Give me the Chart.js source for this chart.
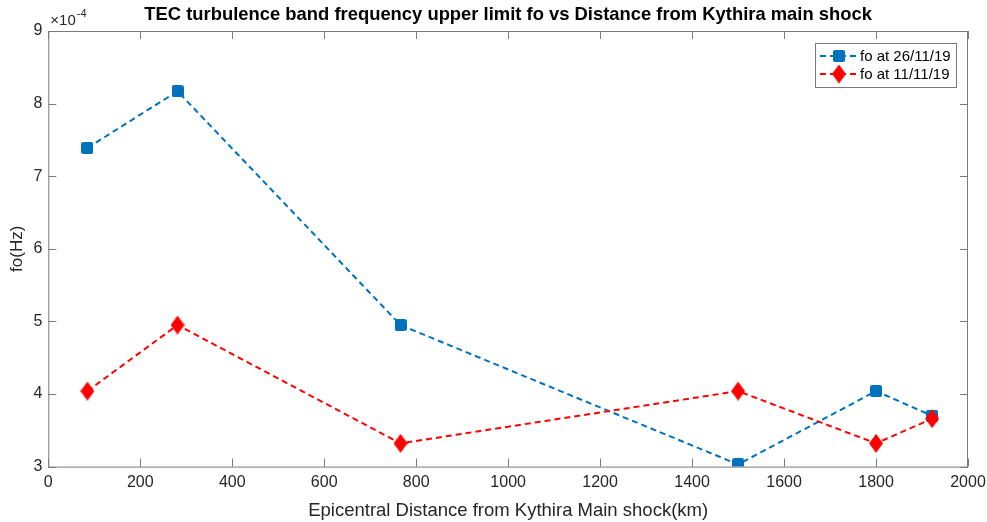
<!DOCTYPE html>
<html>
<head>
<meta charset="utf-8">
<script src="https://cdn.jsdelivr.net/npm/chart.js@4.4.0/dist/chart.umd.min.js"></script>
<style>
  html, body { margin: 0; padding: 0; background: #fff; }
  #wrap { width: 987px; height: 522px; }
</style>
</head>
<body>
<div id="wrap"><canvas id="foChart"></canvas></div>
<script>
// distances (km) and fo values (x1e-4 Hz)
const distances = [85, 281, 766, 1500, 1800, 1922];
const fo261119 = [7.39, 8.17, 4.95, 3.03, 4.04, 3.70];
const fo111119 = [4.04, 4.95, 3.32, 4.04, 3.32, 3.66];
const seriesNames = ['fo at 26/11/19', 'fo at 11/11/19'];
const xTicks = [0, 200, 400, 600, 800, 1000, 1200, 1400, 1600, 1800, 2000];
const yTicks = [3, 4, 5, 6, 7, 8, 9];
const chartTitle = 'TEC turbulence band frequency upper limit fo vs Distance from Kythira main shock';

const BLUE = '#0072BD';
const RED = '#FF0000';
const FONT = '"Liberation Sans", Arial, Helvetica, sans-serif';

// tall diamond marker like matlab's 'd'
function diamondMarker(w, h, color) {
  const c = document.createElement('canvas');
  c.width = w; c.height = h;
  const g = c.getContext('2d');
  g.fillStyle = color;
  g.beginPath();
  g.moveTo(w / 2, 0);
  g.lineTo(w, h / 2);
  g.lineTo(w / 2, h);
  g.lineTo(0, h / 2);
  g.closePath();
  g.fill();
  return c;
}
function squareMarker(s, color) {
  const c = document.createElement('canvas');
  c.width = s; c.height = s;
  const g = c.getContext('2d');
  g.fillStyle = color;
  g.beginPath();
  g.roundRect(0, 0, s, s, 2);
  g.fill();
  return c;
}
const blueMark = squareMarker(12, BLUE);
const redMark = diamondMarker(14, 19, RED);

function toPoints(xs, ys) {
  return xs.map((x, i) => ({ x: x, y: ys[i] }));
}

// box with inward ticks, title over the axes, exponent label and legend (matlab look)
const matlabAxes = {
  id: 'matlabAxes',
  afterDraw(chart) {
    const ctx = chart.ctx;
    const a = chart.chartArea;
    const xs = chart.scales.x, ys = chart.scales.y;
    const tl = 8;
    ctx.save();
    ctx.strokeStyle = '#7a7a7a';
    ctx.lineWidth = 1;
    ctx.strokeRect(a.left + 0.5, a.top + 0.5, a.right - a.left - 1, a.bottom - a.top);
    ctx.beginPath();
    xTicks.forEach(v => {
      const px = Math.round(xs.getPixelForValue(v)) + 0.5;
      ctx.moveTo(px, a.bottom); ctx.lineTo(px, a.bottom - tl);
      ctx.moveTo(px, a.top); ctx.lineTo(px, a.top + tl);
    });
    yTicks.forEach(v => {
      const py = Math.round(ys.getPixelForValue(v)) + 0.5;
      ctx.moveTo(a.left, py); ctx.lineTo(a.left + tl, py);
      ctx.moveTo(a.right, py); ctx.lineTo(a.right - tl, py);
    });
    ctx.stroke();

    // title, centred over the axes
    ctx.fillStyle = '#000';
    ctx.textAlign = 'center';
    ctx.textBaseline = 'middle';
    ctx.font = 'bold 18.4px ' + FONT;
    ctx.fillText(chartTitle, (a.left + a.right) / 2, a.top - 16);

    // x10^-4
    ctx.fillStyle = '#262626';
    ctx.textBaseline = 'alphabetic';
    ctx.textAlign = 'left';
    ctx.font = '15px ' + FONT;
    ctx.fillText('\u00d710', a.left + 2, a.top - 6);
    const w = ctx.measureText('\u00d710').width;
    ctx.font = '11px ' + FONT;
    ctx.fillText('-4', a.left + 3 + w, a.top - 14);

    // legend
    const lx = 815, ly = 43, lw = 141, lh = 44;
    ctx.fillStyle = '#fff';
    ctx.fillRect(lx, ly, lw, lh);
    ctx.strokeStyle = '#7a7a7a';
    ctx.strokeRect(lx + 0.5, ly + 0.5, lw, lh);
    const rows = [
      { color: BLUE, mark: blueMark, text: seriesNames[0], y: ly + 13 },
      { color: RED, mark: redMark, text: seriesNames[1], y: ly + 31 }
    ];
    rows.forEach(r => {
      ctx.strokeStyle = r.color;
      ctx.lineWidth = 2;
      ctx.setLineDash([6, 4]);
      ctx.beginPath();
      ctx.moveTo(lx + 5, r.y);
      ctx.lineTo(lx + 43, r.y);
      ctx.stroke();
      ctx.setLineDash([]);
      ctx.fillStyle = '#fff';
      ctx.fillRect(lx + 18, r.y - 2, 12, 4);
      ctx.drawImage(r.mark, lx + 24 - r.mark.width / 2, r.y - r.mark.height / 2);
      ctx.fillStyle = '#000';
      ctx.font = '15px ' + FONT;
      ctx.textBaseline = 'middle';
      ctx.fillText(r.text, lx + 45, r.y + 1);
    });
    ctx.restore();
  }
};

const bgWhite = {
  id: 'bgWhite',
  beforeDraw(chart) {
    const ctx = chart.ctx;
    ctx.save();
    ctx.fillStyle = '#fff';
    ctx.fillRect(0, 0, chart.width, chart.height);
    ctx.restore();
  }
};

new Chart(document.getElementById('foChart'), {
  type: 'line',
  data: {
    datasets: [
      {
        label: seriesNames[0],
        data: toPoints(distances, fo261119),
        borderColor: BLUE,
        backgroundColor: BLUE,
        borderWidth: 2,
        borderDash: [6, 4],
        pointStyle: blueMark,
        tension: 0,
        order: 2
      },
      {
        label: seriesNames[1],
        data: toPoints(distances, fo111119),
        borderColor: RED,
        backgroundColor: RED,
        borderWidth: 2,
        borderDash: [6, 4],
        pointStyle: redMark,
        tension: 0,
        order: 1
      }
    ]
  },
  options: {
    responsive: true,
    maintainAspectRatio: false,
    animation: false,
    layout: { padding: { left: 0, right: 19, top: 31, bottom: 0 } },
    plugins: {
      legend: { display: false },
      tooltip: { enabled: false },
      title: { display: false }
    },
    scales: {
      x: {
        type: 'linear',
        min: 0,
        max: 2000,
        afterBuildTicks: s => { s.ticks = xTicks.map(v => ({ value: v })); },
        afterFit: s => { s.paddingRight = 0; },
        grid: { display: false, drawTicks: false },
        border: { display: false },
        ticks: {
          color: '#262626',
          font: { family: FONT, size: 16 },
          padding: 6,
          maxRotation: 0,
          callback: v => String(v)
        },
        title: {
          display: true,
          text: 'Epicentral Distance from Kythira Main shock(km)',
          color: '#262626',
          font: { family: FONT, size: 18.5 },
          padding: { top: 2, bottom: 0 }
        }
      },
      y: {
        type: 'linear',
        min: 3,
        max: 9,
        afterBuildTicks: s => { s.ticks = yTicks.map(v => ({ value: v })); },
        grid: { display: false, drawTicks: false },
        border: { display: false },
        ticks: { color: '#262626', font: { family: FONT, size: 16 }, padding: 6 },
        title: {
          display: true,
          text: 'fo(Hz)',
          color: '#262626',
          font: { family: FONT, size: 17 },
          padding: { top: 7, bottom: 0 }
        }
      }
    }
  },
  plugins: [bgWhite, matlabAxes]
});
</script>
</body>
</html>
